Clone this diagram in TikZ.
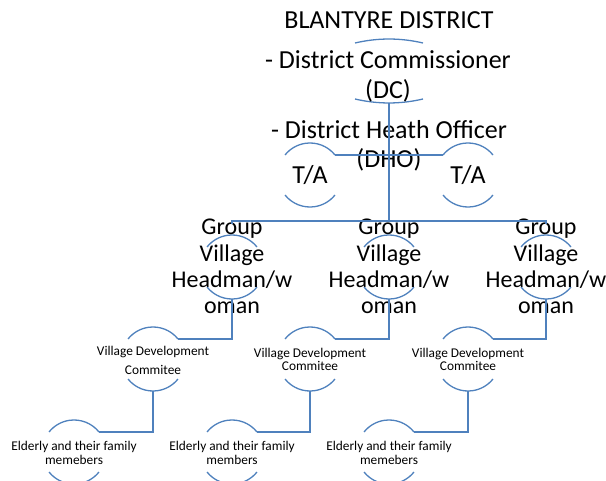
\documentclass[tikz,border=0pt]{standalone}
\usepackage{fontspec}
\setmainfont{Carlito}
\definecolor{lineblue}{RGB}{79,129,189}
\newcommand\mystack[1]{\vtop{\lineskiplimit=-100pt\relax\halign{\hfil##\hfil\cr#1\crcr}}}
\tikzset{
  conn/.style={draw=lineblue, line width=1.3bp},
  txt/.style={anchor=base, inner sep=0pt, text=black},
  bigtxt/.style={txt, font=\fontsize{26.1}{30.1}\selectfont},
  dhotxt/.style={txt, font=\fontsize{26.1}{29.1}\selectfont},
  midtxt/.style={txt, font=\fontsize{24.1}{26.1}\selectfont},
  smalltxt/.style={txt, font=\fontsize{13.4}{14}\selectfont},
  arcs/.pic={
    \coordinate (-tl) at (-25,-20);
    \coordinate (-tr) at (25,-20);
    \coordinate (-bl) at (-25,20);
    \coordinate (-br) at (25,20);
    \coordinate (-top) at (0,-32);
    \coordinate (-bot) at (0,32);
    \draw[conn] (-tr) arc[start angle=-38.66, end angle=-141.34, radius=32];
    \draw[conn] (-bl) arc[start angle=141.34, end angle=38.66, radius=32];
  },
  flatarcs/.pic={
    \coordinate (-top) at (0,-32);
    \coordinate (-bot) at (0,32);
    \draw[conn] (-34,-28) .. controls (-11.3,-33.3) and (11.3,-33.3) .. (34,-28);
    \draw[conn] (-34,28) .. controls (-11.3,33.3) and (11.3,33.3) .. (34,28);
  }
}
\begin{document}
\begin{tikzpicture}[x=1bp,y=-1bp]
\useasboundingbox (0,0) rectangle (606,481);
% shapes
\pic (dcc) at (389,71) {flatarcs};
\pic (ta1c) at (310,175) {arcs};
\pic (ta2c) at (468,175) {arcs};
\pic (gvh1c) at (232,267) {arcs};
\pic (gvh2c) at (389,267) {arcs};
\pic (gvh3c) at (546,267) {arcs};
\pic (vdc1c) at (153,359) {arcs};
\pic (vdc2c) at (310,359) {arcs};
\pic (vdc3c) at (468,359) {arcs};
\pic (eld1c) at (74,452) {arcs};
\pic (eld2c) at (232,452) {arcs};
\pic (eld3c) at (389,452) {arcs};
% texts
\node[bigtxt] (district) at (389,29) {BLANTYRE DISTRICT};
\node[bigtxt] (dc) at (388,69) {\mystack{- District Commissioner\cr (DC)}};
\node[dhotxt] (dho) at (389,139) {\mystack{- District Heath Officer\cr (DHO)}};
\node[bigtxt] (ta1) at (310,184) {T/A};
\node[bigtxt] (ta2) at (468,184) {T/A};
\node[midtxt] (gvh1) at (232,235) {\mystack{Group\cr Village\cr Headman/w\cr oman}};
\node[midtxt] (gvh2) at (389,235) {\mystack{Group\cr Village\cr Headman/w\cr oman}};
\node[midtxt] (gvh3) at (546,235) {\mystack{Group\cr Village\cr Headman/w\cr oman}};
\node[smalltxt, font=\fontsize{13.4}{20}\selectfont] (vdc1) at (153,355) {\mystack{Village Development\cr Commitee}};
\node[smalltxt, font=\fontsize{13.4}{13.5}\selectfont] (vdc2) at (310,357) {\mystack{Village Development\cr Commitee}};
\node[smalltxt, font=\fontsize{13.4}{14}\selectfont] (vdc3) at (468,357) {\mystack{Village Development\cr Commitee}};
\node[smalltxt, font=\fontsize{13.4}{14.5}\selectfont] (eld1) at (74,450) {\mystack{Elderly and their family\cr memebers}};
\node[smalltxt, font=\fontsize{13.4}{14.5}\selectfont] (eld2) at (232,450) {\mystack{Elderly and their family\cr members}};
\node[smalltxt, font=\fontsize{13.4}{14.5}\selectfont] (eld3) at (389,450) {\mystack{Elderly and their family\cr memebers}};
% connectors
\coordinate (bus) at (389,221);
\coordinate (busL) at (232,221);
\coordinate (busR) at (546,221);
\coordinate (stubL) at (232,224);
\coordinate (stubR) at (546,224);
\draw[conn] (dcc-bot) -- (bus);
\draw[conn] (stubL) -- (busL) -- (busR) -- (stubR);
\draw[conn] (ta1c-tr) -- (ta2c-tl);
\draw[conn] (gvh1c-bot) |- (vdc1c-tr);
\draw[conn] (gvh2c-bot) |- (vdc2c-tr);
\draw[conn] (gvh3c-bot) |- (vdc3c-tr);
\draw[conn] (vdc1c-bot) |- (eld1c-tr);
\draw[conn] (vdc2c-bot) |- (eld2c-tr);
\draw[conn] (vdc3c-bot) |- (eld3c-tr);
\end{tikzpicture}
\end{document}
